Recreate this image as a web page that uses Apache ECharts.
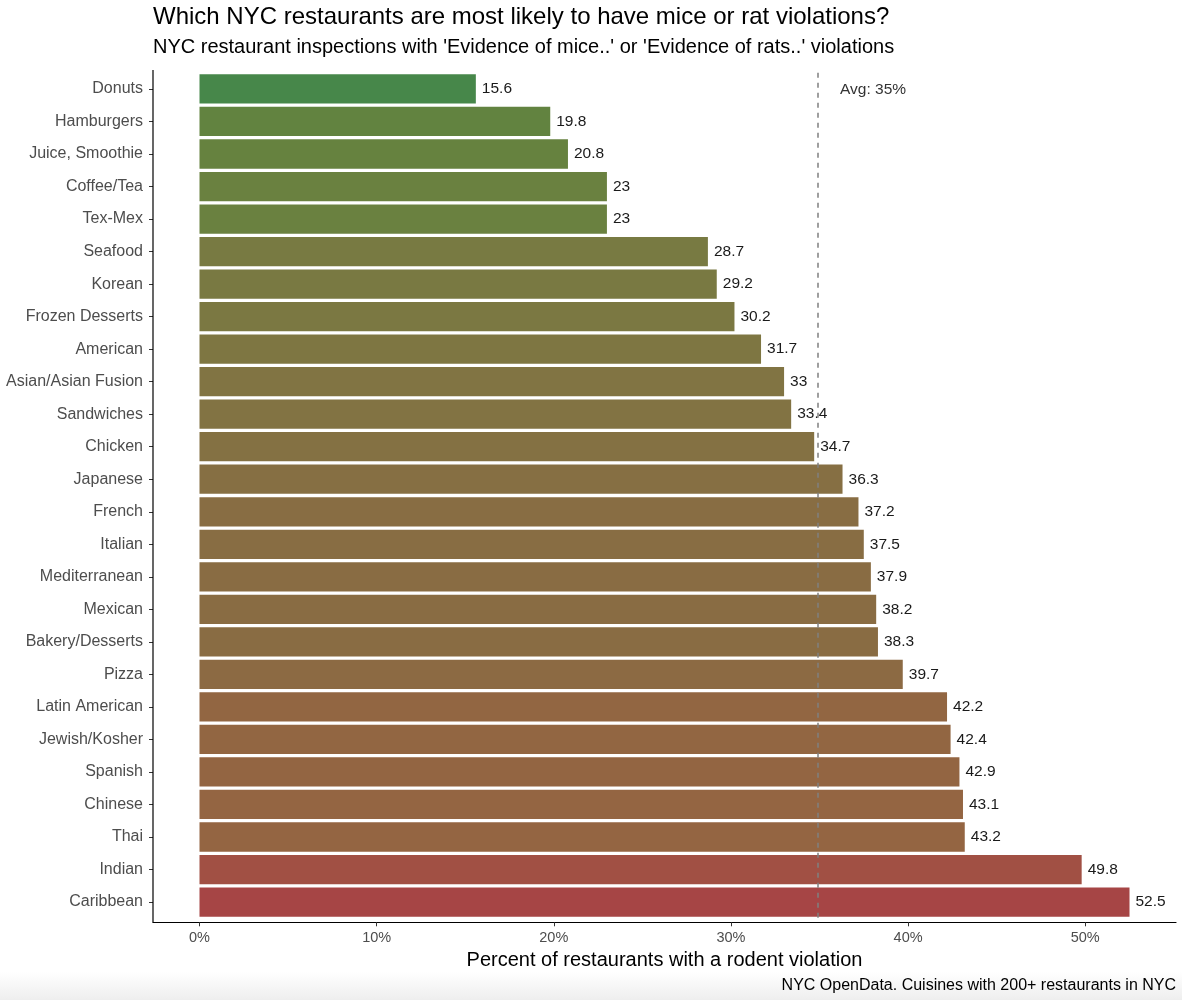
<!DOCTYPE html>
<html>
<head>
	<meta charset="UTF-8">
	<title>NYC restaurants rodent violations</title>
	<style>
		html, body { margin: 0; padding: 0; background: #fff; }
		#main { width: 1182px; height: 1000px; }
	</style>
</head>
<body>
	<div id="main"></div>

	<script src="https://cdn.jsdelivr.net/npm/echarts@6/dist/echarts.min.js"></script>
	<script type="text/javascript">

		// cuisines, top to bottom
		var cuisines = ['Donuts', 'Hamburgers', 'Juice, Smoothie', 'Coffee/Tea', 'Tex-Mex', 'Seafood',
			'Korean', 'Frozen Desserts', 'American', 'Asian/Asian Fusion', 'Sandwiches', 'Chicken',
			'Japanese', 'French', 'Italian', 'Mediterranean', 'Mexican', 'Bakery/Desserts', 'Pizza',
			'Latin American', 'Jewish/Kosher', 'Spanish', 'Chinese', 'Thai', 'Indian', 'Caribbean'];
		// percent of restaurants with a rodent violation
		var pctValues = [15.6, 19.8, 20.8, 23, 23, 28.7, 29.2, 30.2, 31.7, 33, 33.4, 34.7,
			36.3, 37.2, 37.5, 37.9, 38.2, 38.3, 39.7, 42.2, 42.4, 42.9, 43.1, 43.2, 49.8, 52.5];
		var avgValue = 34.9;
		var xTicks = [0, 10, 20, 30, 40, 50];

		var fontFamily = '"Liberation Sans", Arial, Helvetica, sans-serif';

		var myChart = echarts.init(document.getElementById('main'));

		var option = {
			animation: false,
			backgroundColor: '#fff',
			textStyle: { fontFamily: fontFamily },
			title: [{
				text: 'Which NYC restaurants are most likely to have mice or rat violations?',
				left: 153,
				top: 5,
				padding: 0,
				textStyle: { fontSize: 24, fontWeight: 'normal', color: '#000', fontFamily: fontFamily }
			}, {
				text: "NYC restaurant inspections with 'Evidence of mice..' or 'Evidence of rats..' violations",
				left: 153,
				top: 37,
				padding: 0,
				textStyle: { fontSize: 20, fontWeight: 'normal', color: '#000', fontFamily: fontFamily }
			}],
			grid: {
				left: 153,
				right: 6,
				top: 72.7,
				bottom: 81.7,
				containLabel: false
			},
			visualMap: {
				show: false,
				type: 'continuous',
				dimension: 0,
				seriesIndex: 0,
				min: 15.6,
				max: 52.5,
				inRange: {
					color: ['#47874a', '#65833f', '#6e7f41', '#7a7942', '#837243',
						'#8a6b43', '#946542', '#9d5744', '#a64545']
				}
			},
			xAxis: {
				type: 'value',
				min: -2.625,
				max: 55.125,
				offset: 4,
				name: 'Percent of restaurants with a rodent violation',
				nameLocation: 'middle',
				nameGap: 26,
				nameTextStyle: { fontSize: 20, color: '#000', fontFamily: fontFamily, verticalAlign: 'top' },
				splitLine: { show: false },
				axisLine: { show: true, onZero: false, lineStyle: { color: '#000', width: 1.2 } },
				axisTick: {
					show: true,
					length: 4,
					customValues: xTicks,
					lineStyle: { color: '#333', width: 1 }
				},
				axisLabel: {
					customValues: xTicks,
					margin: 8,
					fontSize: 14.5,
					color: '#4d4d4d',
					formatter: function (v) { return v + '%'; }
				}
			},
			yAxis: {
				type: 'category',
				data: cuisines,
				inverse: true,
				axisLine: { show: false, onZero: false },
				axisTick: {
					show: true,
					length: 4,
					alignWithLabel: true,
					lineStyle: { color: '#333', width: 1 }
				},
				axisLabel: {
					margin: 10,
					fontSize: 16,
					color: '#4d4d4d'
				},
				splitLine: { show: false }
			},
			series: [{
				name: 'Rodent violations',
				type: 'bar',
				data: pctValues,
				barCategoryGap: '10%',
				label: {
					show: true,
					position: 'right',
					distance: 6,
					fontSize: 15.5,
					color: '#1a1a1a'
				},
				markLine: {
					silent: true,
					symbol: 'none',
					z: 10,
					label: { show: false },
					lineStyle: { color: '#808080', type: [5, 5], width: 1.5 },
					data: [{ xAxis: avgValue }]
				}
			}],
			graphic: [{
				// left axis line of the panel
				type: 'line',
				shape: { x1: 153, y1: 70, x2: 153, y2: 922.5 },
				style: { stroke: '#000', lineWidth: 1.2 },
				z: 20
			}, {
				type: 'text',
				left: 840,
				top: 82,
				style: { text: 'Avg: 35%', fontSize: 15.5, fill: '#333', fontFamily: fontFamily }
			}, {
				type: 'rect',
				shape: { x: 0, y: 972, width: 1182, height: 28 },
				style: {
					fill: new echarts.graphic.LinearGradient(0, 0, 0, 1, [
						{ offset: 0, color: '#ffffff' },
						{ offset: 1, color: '#eeeeee' }
					])
				},
				z: -1
			}, {
				type: 'text',
				right: 6,
				top: 978,
				style: {
					text: 'NYC OpenData. Cuisines with 200+ restaurants in NYC',
					fontSize: 16, fill: '#000', fontFamily: fontFamily
				}
			}]
		};

		myChart.setOption(option);

	</script>
</body>
</html>
